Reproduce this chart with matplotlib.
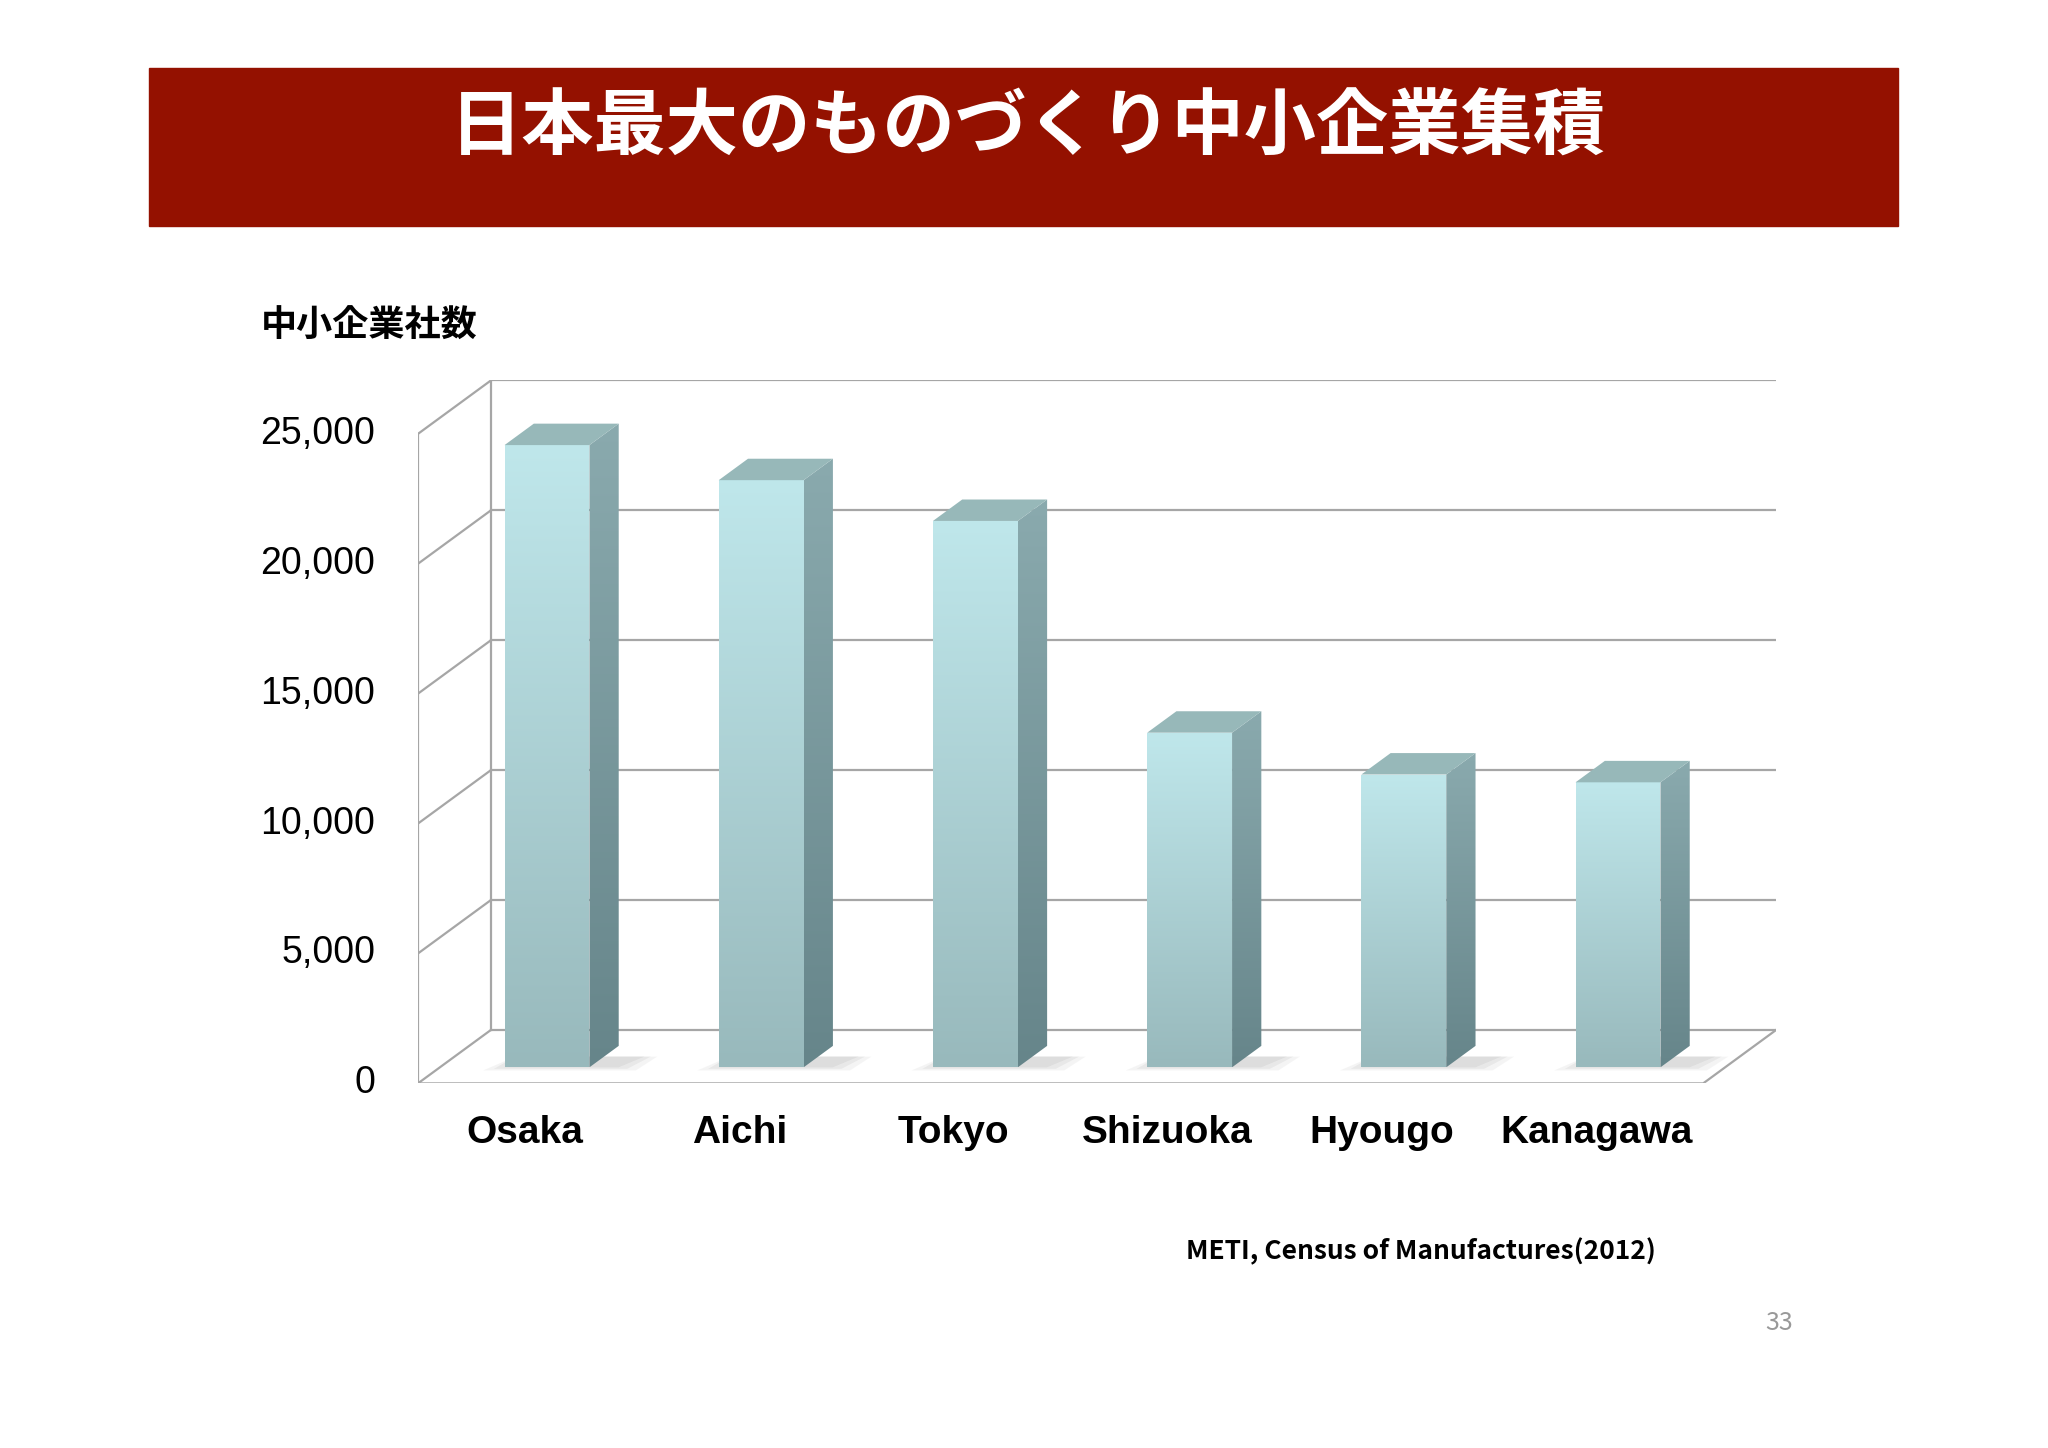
import numpy as np
import matplotlib.pyplot as plt
from matplotlib.patches import Polygon, Rectangle
from matplotlib.colors import LinearSegmentedColormap

plt.rcParams['font.family'] = ['Noto Sans CJK JP', 'DejaVu Sans']

# data
prefs = ['Osaka', 'Aichi', 'Tokyo', 'Shizuoka', 'Hyougo', 'Kanagawa']
companies = [23950, 22600, 21030, 12880, 11270, 10970]
yticks = [0, 5000, 10000, 15000, 20000, 25000]
ytick_labels = ['0', '5,000', '10,000', '15,000', '20,000', '25,000']

W, H = 1568, 1108
fig = plt.figure(figsize=(20.48, 14.48), dpi=100)

# title banner
fig.patches.append(Rectangle((114 / W, 1 - 173 / H), (1453 - 114) / W, 121 / H,
                             transform=fig.transFigure, color='#941100', zorder=0))
fig.text(787 / W, 1 - 98 / H, '日本最大のものづくり中小企業集積', color='white',
         fontsize=52, fontweight='bold', ha='center', va='center')
fig.text(200 / W, 1 - 250 / H, '中小企業社数', fontsize=26, fontweight='bold', va='center')
fig.text(1268 / W, 1 - 958 / H, 'METI, Census of Manufactures(2012)', fontsize=19,
         fontweight='bold', ha='right', va='center')
fig.text(1362 / W, 1 - 1012 / H, '33', fontsize=18, color='#999999', ha='center', va='center')

ax = fig.add_axes([320 / W, 1 - 829 / H, 1040 / W, 538 / H])
xlim = (-0.5, (1360 - 320) / 164 - 0.5)
ylim = (0, (829 - 291) / 99.4 * 5000)
ax.axis('off')

DX, DY = 56 / 164, 41 / 99.4 * 5000   # depth offset in data units
gcol = '#a6a6a6'
x0, xr = xlim
xfront_end = xr - DX

# walls
for v in yticks:
    ax.plot([x0 + DX, xr], [v + DY, v + DY], color=gcol, lw=1.6, zorder=1)
    ax.plot([x0, x0 + DX], [v, v + DY], color=gcol, lw=1.6, zorder=1)
ax.plot([x0 + DX, x0 + DX], [DY, 25000 + DY + 400], color=gcol, lw=1.6, zorder=1)
ax.plot([x0, x0], [0, 25000], color=gcol, lw=1.6, zorder=1)
ax.plot([x0, xfront_end, xr], [0, 0, DY], color=gcol, lw=1.6, zorder=1)

for i, lab in enumerate(ytick_labels):
    ax.text(x0 - 0.2, yticks[i], lab, fontsize=27, family='Liberation Sans',
            ha='right', va='center')

bw = 65 / 164
f0, f1 = 0.3, 0.7   # bar depth span
grad = np.linspace(0, 1, 256).reshape(-1, 1)
cm_front = LinearSegmentedColormap.from_list('f', ['#98b9bc', '#bfe7eb'])
cm_side = LinearSegmentedColormap.from_list('s', ['#66858a', '#8aaaae'])
for i, (name, v) in enumerate(zip(prefs, companies)):
    xl = i - bw / 2 + f0 * DX
    yb = f0 * DY
    xr_ = xl + bw
    ddx, ddy = (f1 - f0) * DX, (f1 - f0) * DY
    # soft shadow on floor
    for k, a in enumerate([0.25, 0.2, 0.15]):
        ax.add_patch(Polygon([(xl - 0.05 * k, yb - 60 * k), (xr_ + ddx + 0.04 * k, yb - 60 * k),
                              (xr_ + ddx + 0.12 + 0.03 * k, yb + ddy * 0.5), (xl + 0.05, yb + ddy * 0.5)],
                             color='#bbbbbb', alpha=a, lw=0, zorder=2))
    front = Polygon([(xl, yb), (xr_, yb), (xr_, yb + v), (xl, yb + v)], lw=0, fc='none')
    ax.add_patch(front)
    im = ax.imshow(grad, extent=[xl, xr_, yb, yb + v], origin='lower', cmap=cm_front,
                   aspect='auto', zorder=3)
    im.set_clip_path(front)
    side = Polygon([(xr_, yb), (xr_ + ddx, yb + ddy), (xr_ + ddx, yb + ddy + v), (xr_, yb + v)],
                   lw=0, fc='none')
    ax.add_patch(side)
    im2 = ax.imshow(grad, extent=[xr_, xr_ + ddx, yb, yb + ddy + v], origin='lower', cmap=cm_side,
                    aspect='auto', zorder=3)
    im2.set_clip_path(side)
    ax.add_patch(Polygon([(xl, yb + v), (xr_, yb + v), (xr_ + ddx, yb + v + ddy), (xl + ddx, yb + v + ddy)],
                         fc='#97b8b9', lw=0, zorder=3))
    ax.text(i, -1900, name, fontsize=28, fontweight='bold', family='Liberation Sans',
            ha='center', va='center')

ax.set_xlim(*xlim)
ax.set_ylim(*ylim)
fig.savefig('out.png', dpi=100)
